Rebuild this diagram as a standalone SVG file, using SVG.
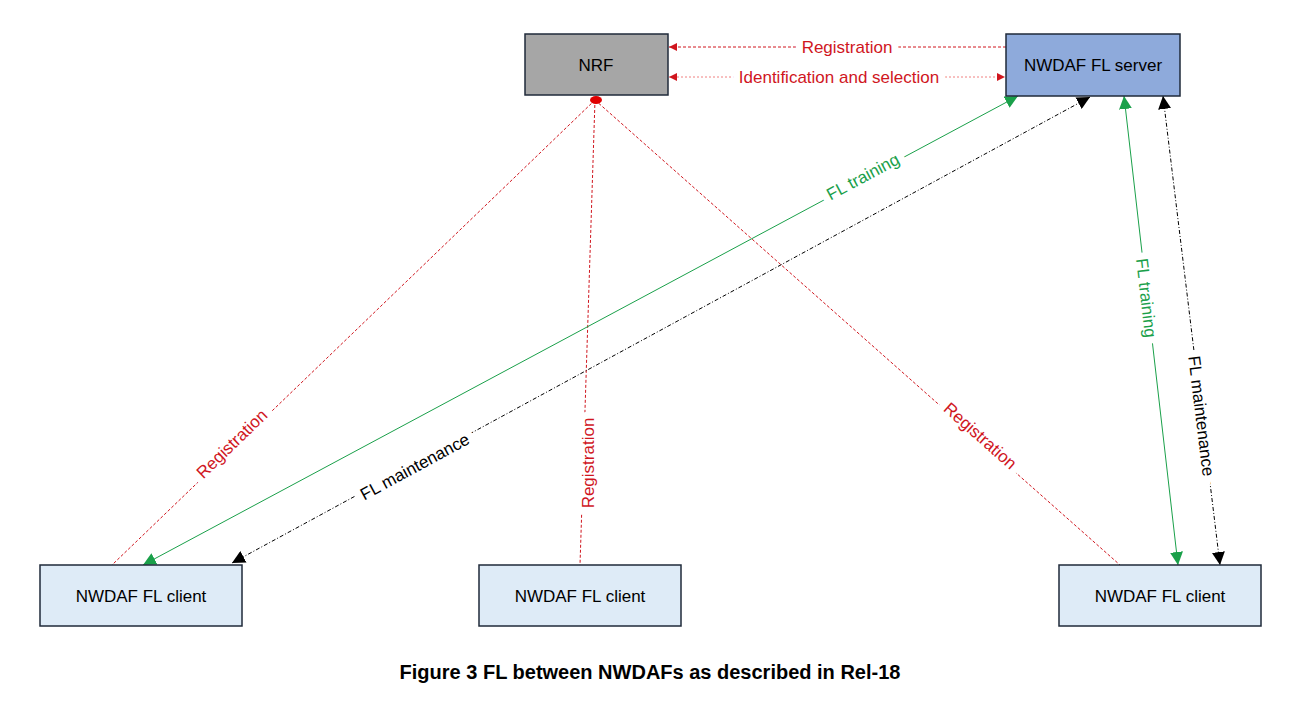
<svg xmlns="http://www.w3.org/2000/svg" width="1299" height="701" viewBox="0 0 1299 701">
<style>
text{font-family:"Liberation Sans",Arial,sans-serif;font-size:17px;text-anchor:middle;dominant-baseline:central}
.lbl{paint-order:stroke;stroke:#fff;stroke-width:14px}
.box{stroke:#1f2a3a;stroke-width:1.5}
.red{fill:#d0161e}.grn{fill:#1aa04a}.blk{fill:#000}
.lr{stroke:#d0161e;stroke-width:1;stroke-dasharray:3 2;fill:none}
.lp{stroke:#f08080;stroke-width:1;stroke-dasharray:2 2;fill:none}
.lg{stroke:#1aa04a;stroke-width:1;fill:none}
.lb{stroke:#000;stroke-width:1;stroke-dasharray:4 2 1 2;fill:none}
</style>
<defs>
<marker id="ar" viewBox="0 0 10 10" refX="10" refY="5" markerWidth="8" markerHeight="8" orient="auto-start-reverse" markerUnits="userSpaceOnUse"><path d="M0,0L10,5L0,10z" fill="#d0161e"/></marker>
<marker id="ag" viewBox="0 0 10 10" refX="10" refY="5" markerWidth="13" markerHeight="13" orient="auto-start-reverse" markerUnits="userSpaceOnUse"><path d="M0,0L10,5L0,10z" fill="#1aa04a"/></marker>
<marker id="ab" viewBox="0 0 10 10" refX="10" refY="5" markerWidth="13" markerHeight="13" orient="auto-start-reverse" markerUnits="userSpaceOnUse"><path d="M0,0L10,5L0,10z" fill="#000"/></marker>
</defs>
<rect width="1299" height="701" fill="#fff"/>
<g id="connectors">
<line class="lr" x1="1006" y1="47" x2="669" y2="47" marker-end="url(#ar)"/>
<line class="lp" x1="669" y1="77" x2="1005" y2="77" marker-start="url(#ar)" marker-end="url(#ar)"/>
<line class="lr" x1="595" y1="100" x2="112" y2="565"/>
<line class="lr" x1="595" y1="100" x2="580" y2="565"/>
<line class="lr" x1="595" y1="100" x2="1120" y2="565"/>
<ellipse cx="596" cy="100" rx="6" ry="4" fill="#e00000"/>
<line class="lg" x1="1018" y1="96" x2="143" y2="565" marker-start="url(#ag)" marker-end="url(#ag)"/>
<line class="lb" x1="1090" y1="97" x2="232" y2="563" marker-start="url(#ab)" marker-end="url(#ab)"/>
<line class="lg" x1="1124" y1="96" x2="1178" y2="565" marker-start="url(#ag)" marker-end="url(#ag)"/>
<line class="lb" x1="1163" y1="96" x2="1220" y2="565" marker-start="url(#ab)" marker-end="url(#ab)"/>
<text class="lbl red" x="847" y="47">Registration</text>
<text class="lbl red" x="839" y="77">Identification and selection</text>
<text class="lbl red" transform="translate(232,444) rotate(-44)">Registration</text>
<text class="lbl red" transform="translate(588,463) rotate(-90)">Registration</text>
<text class="lbl red" transform="translate(980,436) rotate(41.5)">Registration</text>
<text class="lbl grn" transform="translate(863,177) rotate(-28.2)">FL training</text>
<text class="lbl blk" transform="translate(415,467) rotate(-28.5)">FL maintenance</text>
<text class="lbl grn" transform="translate(1146,298) rotate(83.5)">FL training</text>
<text class="lbl blk" transform="translate(1201,416) rotate(83)">FL maintenance</text>
</g>
<g id="nrf"><rect class="box" x="525" y="34" width="143" height="61" fill="#a6a6a6"/><text x="596" y="65">NRF</text></g>
<g id="server"><rect class="box" x="1006" y="34" width="174" height="62" fill="#8eaadb"/><text x="1093" y="65">NWDAF FL server</text></g>
<g id="client1"><rect class="box" x="40" y="565" width="202" height="61" fill="#deebf7"/><text x="141" y="596">NWDAF FL client</text></g>
<g id="client2"><rect class="box" x="479" y="565" width="202" height="61" fill="#deebf7"/><text x="580" y="596">NWDAF FL client</text></g>
<g id="client3"><rect class="box" x="1059" y="565" width="202" height="61" fill="#deebf7"/><text x="1160" y="596">NWDAF FL client</text></g>
<text x="650" y="672" style="font-size:20px;font-weight:bold">Figure 3  FL between NWDAFs as described in Rel-18</text>
</svg>
